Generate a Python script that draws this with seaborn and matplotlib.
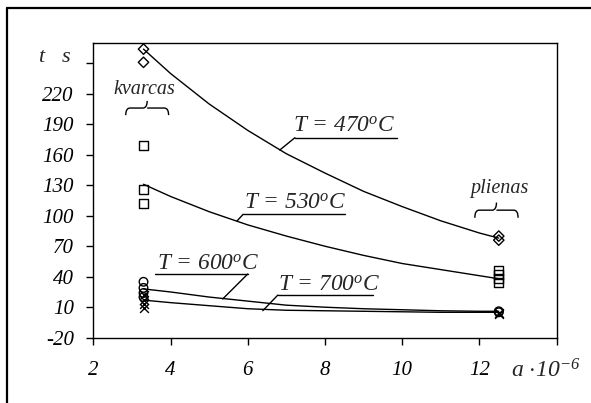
import numpy as np
import pandas as pd
import matplotlib
matplotlib.use("Agg")
import matplotlib.pyplot as plt
import seaborn as sns
from matplotlib.path import Path
from matplotlib.patches import PathPatch
from matplotlib.lines import Line2D

# ---------------- data ----------------
curve_a = [3.3, 4, 5, 6, 7, 8, 9, 10, 11, 12, 12.5]
curve_470 = [264, 240, 210, 184, 161, 142, 124, 109, 95, 83, 78]
curve_530 = [131, 119, 104, 91, 80, 70, 61, 53, 47, 41, 38]
curve_600 = [28, 25, 20, 16, 12, 10, 8.5, 7.5, 6.5, 6, 6]
curve_700 = [17, 14.5, 11.5, 8.5, 7, 6.5, 6, 5.5, 5, 5, 5]

pts_470_a = [3.3, 3.3, 12.5, 12.5]
pts_470_t = [264, 251, 80, 76]
pts_530_a = [3.3, 3.3, 3.3, 12.5, 12.5, 12.5, 12.5]
pts_530_t = [169, 126, 112, 46, 42, 38, 34]
pts_600_a = [3.3, 3.3, 3.3, 3.3, 12.5, 12.5]
pts_600_t = [35, 29, 24, 20, 6, 5]
pts_700_a = [3.3, 3.3, 3.3, 3.3, 12.5, 12.5]
pts_700_t = [22, 17, 13, 9, 4, 3]

x_ticks = [2, 4, 6, 8, 10, 12, 14]
x_labels = ["2", "4", "6", "8", "10", "12", ""]
y_ticks = [-20, 10, 40, 70, 100, 130, 160, 190, 220, 250]
y_labels = ["-20", "10", "40", "70", "100", "130", "160", "190", "220", ""]

labels = ["470", "530", "600", "700"]

# ---------------- style ----------------
sns.set_style("white")
SERIF = "Liberation Serif"
plt.rcParams["font.family"] = [SERIF, "DejaVu Serif"]
plt.rcParams["font.style"] = "italic"
plt.rcParams["mathtext.fontset"] = "custom"
plt.rcParams["mathtext.rm"] = SERIF + ":italic"
plt.rcParams["mathtext.it"] = SERIF + ":italic"
plt.rcParams["mathtext.bf"] = SERIF + ":italic:bold"

fig = plt.figure(figsize=(5.91, 4.03), dpi=100)
fig.patch.set_facecolor("white")
ax = fig.add_axes([93.3 / 591, (403 - 337.7) / 403, 463.4 / 591, 294.7 / 403])

# outer frame (top and left only are visible)
fig.add_artist(Line2D([7 / 591, 1.0], [1 - 8 / 403, 1 - 8 / 403], color="black", lw=1.6, transform=fig.transFigure))
fig.add_artist(Line2D([7 / 591, 7 / 591], [0.0, 1 - 8 / 403], color="black", lw=1.6, transform=fig.transFigure))

# curves
for ys in [curve_470, curve_530, curve_600, curve_700]:
    sns.lineplot(x=curve_a, y=ys, color="black", lw=1.0, ax=ax, sort=False)

# markers
sns.scatterplot(x=pts_470_a, y=pts_470_t, marker="D", s=28, facecolor="none", edgecolor="black", linewidth=1.0, ax=ax, zorder=5)
sns.scatterplot(x=pts_530_a, y=pts_530_t, marker="s", s=45, facecolor="none", edgecolor="black", linewidth=1.0, ax=ax, zorder=5)
sns.scatterplot(x=pts_600_a, y=pts_600_t, marker="o", s=38, facecolor="none", edgecolor="black", linewidth=1.0, ax=ax, zorder=5)
sns.scatterplot(x=pts_700_a, y=pts_700_t, marker="x", s=40, color="black", linewidth=1.0, ax=ax, zorder=5)

ax.set_xlim(2, 14)
ax.set_ylim(-20, 270)
ax.set_xticks(x_ticks)
ax.set_xticklabels(x_labels)
ax.set_yticks(y_ticks)
ax.set_yticklabels(y_labels)
for sp in ax.spines.values():
    sp.set_visible(True)
    sp.set_color("black")
    sp.set_linewidth(1.0)
ax.tick_params(axis="both", direction="out", length=5, width=1, color="black",
               labelsize=15, labelcolor="black")
ax.tick_params(axis="x", pad=12)
ax.tick_params(axis="y", pad=9)
ax.tick_params(bottom=True, left=True)
for lab in ax.get_xticklabels() + ax.get_yticklabels():
    lab.set_fontstyle("italic")
    lab.set_fontfamily(SERIF)

# axis titles placed at the ends
fig.text(55 / 591, 1 - 58 / 403, "t   s", fontsize=16, ha="center", va="center", family=SERIF, style="italic")
fig.text(546 / 591, 1 - 371 / 403, r"a $\cdot$10$^{-6}$", fontsize=17, ha="center", va="center")

# temperature labels with underline and leader
lab_specs = [
    # text_x, text_y, underline x0, x1, y, leader from (x,y) to (x,y)
    (7.17, 183, 7.22, 9.86, 176.8, (7.22, 176.8), (6.83, 164.7)),
    (5.90, 106.7, 5.88, 8.52, 101.4, (5.88, 101.4), (5.72, 94.8)),
    (3.64, 46.6, 3.60, 6.00, 42.7, (6.00, 42.7), (5.35, 18.1)),
    (6.78, 26.0, 6.78, 9.24, 22.0, (6.78, 22.0), (6.39, 6.6)),
]
for lab, (tx, ty, ux0, ux1, uy, p0, p1) in zip(labels, lab_specs):
    ax.text(tx, ty, "T = %s$^{o}$C" % lab, fontsize=16.8, ha="left", va="baseline")
    ax.plot([ux0, ux1], [uy, uy], color="black", lw=1.0)
    ax.plot([p0[0], p1[0]], [p0[1], p1[1]], color="black", lw=1.0)

# group labels and braces
def brace(ax, x0, x1, ybot, ytop):
    xc = (x0 + x1) / 2
    ym = (ybot + ytop) / 2
    r = (x1 - x0) * 0.1
    verts = [(x0, ybot), (x0, ym), (x0 + r, ym), (xc - r, ym), (xc, ym), (xc, ytop),
             (xc, ym), (xc + r, ym), (x1 - r, ym), (x1, ym), (x1, ybot)]
    codes = [Path.MOVETO, Path.CURVE3, Path.CURVE3, Path.LINETO, Path.CURVE3, Path.CURVE3,
             Path.MOVETO, Path.CURVE3, Path.LINETO, Path.CURVE3, Path.CURVE3]
    ax.add_patch(PathPatch(Path(verts, codes), fill=False, lw=1.0, edgecolor="black", clip_on=False))

ax.text(3.33, 224, "kvarcas", fontsize=14.5, ha="center", va="center")
brace(ax, 2.84, 3.95, 199, 213)
ax.text(12.52, 127, "plienas", fontsize=14.5, ha="center", va="center")
brace(ax, 11.88, 13.0, 98, 113)

fig.savefig("out.png", dpi=100, facecolor="white")
